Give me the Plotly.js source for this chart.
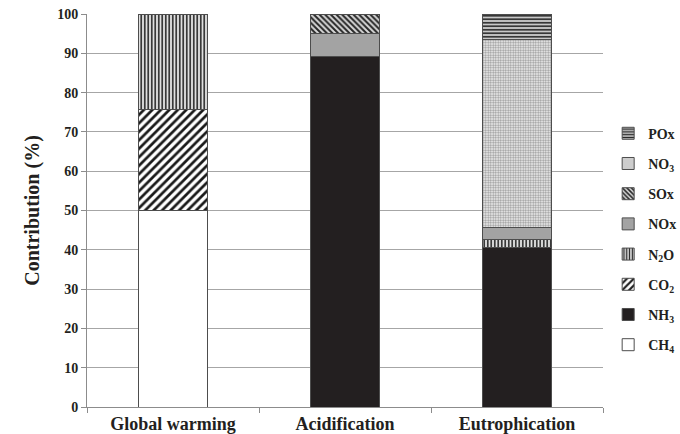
<!DOCTYPE html>
<html>
<head>
<meta charset="utf-8">
<script src="https://cdn.plot.ly/plotly-3.0.1.min.js"></script>
<style>
  html, body { margin: 0; padding: 0; background: #fff; }
  #chart { width: 680px; height: 434px; }
</style>
</head>
<body>
<div id="chart"></div>
<script>
// Impact categories on the x axis
const categories = ['Global warming', 'Acidification', 'Eutrophication'];

// Contribution (%) of each substance to each impact category
const CH4 = [50.1, null, null];
const NH3 = [null, 89.2, 40.7];
const CO2 = [25.6, null, null];
const N2O = [24.3, null, 1.8];
const NOx = [null, 5.9, 3.1];
const SOx = [null, 4.9, null];
const NO3 = [null, null, 48.0];
const POx = [null, null, 6.4];

const yTicks = [0, 10, 20, 30, 40, 50, 60, 70, 80, 90, 100];

const outline = { color: '#4d4d4d', width: 1 };
const font = 'Liberation Serif, Times New Roman, serif';

function bar(name, values, rank, fill, pattern) {
  const marker = { color: fill, line: outline };
  if (pattern) marker.pattern = pattern;
  return {
    type: 'bar', name: name, x: categories, y: values,
    width: 0.4, marker: marker, legendgroup: name, legendrank: rank,
    hoverinfo: 'skip'
  };
}

// Stacked bottom to top; the legend lists them top to bottom
const traces = [
  bar('<b>CH<sub>4</sub></b>', CH4, 8, '#ffffff'),
  bar('<b>NH<sub>3</sub></b>', NH3, 7, '#231f20'),
  bar('<b>CO<sub>2</sub></b>', CO2, 6, '#ffffff',
      { shape: '/', size: 6, solidity: 0.45, fgcolor: '#1a1a1a', bgcolor: '#ffffff', fillmode: 'replace' }),
  bar('<b>N<sub>2</sub>O</b>', N2O, 5, '#dcdcdc',
      { shape: '|', size: 3.5, solidity: 0.45, fgcolor: '#262626', bgcolor: '#e0e0e0', fillmode: 'replace' }),
  bar('<b>NOx</b>', NOx, 4, '#a3a3a3'),
  bar('<b>SOx</b>', SOx, 3, '#d0d0d0',
      { shape: '\\', size: 4, solidity: 0.5, fgcolor: '#262626', bgcolor: '#d8d8d8', fillmode: 'replace' }),
  bar('<b>NO<sub>3</sub></b>', NO3, 2, '#eeeeee',
      { shape: '.', size: 2.5, solidity: 0.5, fgcolor: '#9a9a9a', bgcolor: '#f6f6f6', fillmode: 'replace' }),
  bar('<b>POx</b>', POx, 1, '#cccccc',
      { shape: '-', size: 3.5, solidity: 0.45, fgcolor: '#262626', bgcolor: '#c8c8c8', fillmode: 'replace' })
];

const layout = {
  width: 680, height: 434,
  margin: { l: 87, r: 77, t: 14, b: 27, autoexpand: false },
  paper_bgcolor: '#ffffff', plot_bgcolor: '#ffffff',
  barmode: 'stack',
  showlegend: true,
  font: { family: font, color: '#231f20', size: 13 },
  xaxis: {
    type: 'category',
    tickson: 'boundaries', ticks: 'outside', ticklen: 5, tickcolor: '#8c8c8c',
    showline: true, linecolor: '#8c8c8c', linewidth: 1,
    showgrid: false, zeroline: false,
    tickfont: { family: font, size: 18, color: '#231f20', weight: 'bold' }
  },
  yaxis: {
    range: [0, 100], tickvals: yTicks, ticktext: yTicks.map(String),
    ticks: 'outside', ticklen: 5, tickcolor: '#8c8c8c',
    showline: true, linecolor: '#8c8c8c', linewidth: 1,
    showgrid: true, gridcolor: '#a6a6a6', gridwidth: 1, zeroline: false,
    tickfont: { family: font, size: 14, color: '#231f20', weight: 'bold' },
    title: { text: '<b>Contribution (%)</b>', font: { family: font, size: 20, color: '#231f20' }, standoff: 12 }
  },
  legend: {
    x: 1.01, xanchor: 'left', y: 0.427, yanchor: 'middle',
    traceorder: 'grouped', tracegroupgap: 9,
    itemwidth: 30,
    font: { family: font, size: 14, color: '#231f20' },
    bgcolor: 'rgba(0,0,0,0)'
  }
};

Plotly.newPlot('chart', traces, layout, { staticPlot: true, displayModeBar: false });
</script>
</body>
</html>
